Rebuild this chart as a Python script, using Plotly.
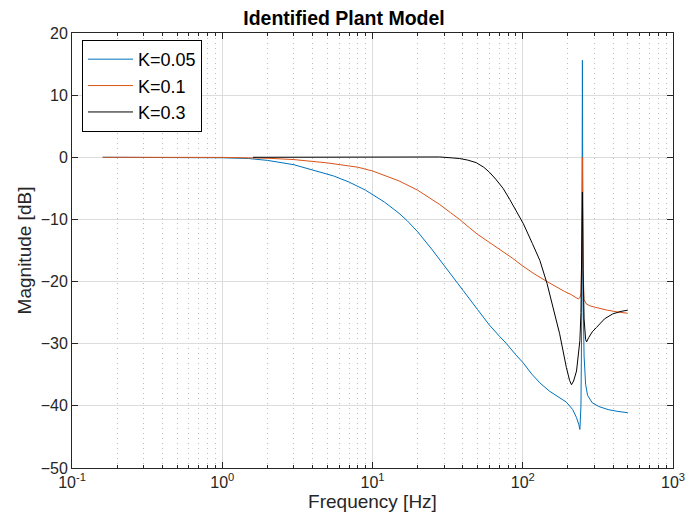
import plotly.graph_objects as go

# Magnitude responses of the identified plant for three gains
f_k005 = [0.16, 0.3, 0.5, 1.0, 1.5, 2.0, 3.0, 4.0, 5.5, 7.0, 9.0, 12, 15, 17, 20, 25, 30,
          36, 40, 50, 60, 70, 78, 90, 100, 115, 130, 150, 175, 195, 215, 228, 236, 240,
          244, 247, 249.5, 252, 256, 262, 270, 290, 320, 370, 430, 500]
db_k005 = [0.0, 0.0, -0.02, -0.08, -0.2, -0.5, -1.2, -2.0, -3.0, -4.0, -5.3, -7.2, -9.0,
           -10.2, -12.0, -14.9, -17.5, -20.0, -21.4, -24.5, -27.0, -28.8, -30.0, -31.8,
           -33.0, -34.9, -36.3, -37.6, -38.7, -39.4, -40.6, -41.9, -43.0, -43.8,
           -40.0, -25.0, 15.6, -22.0, -32.0, -36.5, -38.3, -39.5, -40.1, -40.6, -40.9, -41.1]

f_k01 = [0.16, 0.5, 1.0, 2.0, 3.0, 5.0, 8.0, 10, 12, 15, 20, 24, 28, 33, 38, 44, 50, 60,
         70, 85, 100, 120, 145, 170, 190, 210, 220, 234, 240, 244, 247, 249.5, 252, 256,
         265, 280, 300, 330, 365, 430, 500]
db_k01 = [0.0, 0.0, -0.02, -0.15, -0.37, -0.9, -1.6, -2.2, -2.9, -3.8, -5.3, -6.5,
          -7.6, -8.9, -10.0, -11.3, -12.4, -13.7, -14.8, -16.2, -17.5, -18.8, -20.0,
          -21.0, -21.6, -22.1, -22.4, -22.8, -22.6, -22.0, -16.0, 0.0, -18.0, -22.9,
          -23.6, -23.9, -24.1, -24.4, -24.6, -24.9, -25.1]

f_k03 = [1.6, 3.0, 5.0, 10, 20, 28, 34, 38, 43, 49, 55, 60, 66, 74, 82, 91, 101, 116,
         130, 145, 160, 176, 195, 205, 211, 218, 228, 236, 240, 244, 247, 249.5, 252,
         256, 262, 266, 275, 290, 309, 350, 397, 450, 500]
db_k03 = [0.0, 0.0, 0.0, 0.02, 0.05, 0.05, -0.1, -0.2, -0.45, -0.86, -1.6, -2.4, -3.5,
          -5.0, -6.8, -8.8, -10.7, -13.9, -16.6, -20.3, -24.3, -28.4, -33.8, -35.9,
          -36.6, -36.0, -34.4, -31.5, -29.5, -25.0, -18.0, -5.6, -18.0, -26.0, -29.3,
          -29.7, -29.0, -28.1, -27.4, -26.0, -25.2, -24.8, -24.6]

series_names = ["K=0.05", "K=0.1", "K=0.3"]
series_colors = ["#0072BD", "#D95319", "#000000"]

x_tick_vals = [0.1, 1, 10, 100, 1000]
x_tick_text = ["10<sup>-1</sup>", "10<sup>0</sup>", "10<sup>1</sup>",
               "10<sup>2</sup>", "10<sup>3</sup>"]
x_minor_vals = [m * 10.0 ** e for e in range(-1, 3) for m in range(2, 10)]
y_tick_vals = [-50, -40, -30, -20, -10, 0, 10, 20]

FONT = "Liberation Sans, Arial, sans-serif"
AXIS_COLOR = "#262626"

fig = go.Figure()
for fx, dbx, name, col in zip([f_k005, f_k01, f_k03], [db_k005, db_k01, db_k03],
                              series_names, series_colors):
    fig.add_trace(go.Scatter(x=fx, y=dbx, mode="lines", name=name,
                             line=dict(color=col, width=1)))

fig.update_layout(
    width=688, height=529,
    margin=dict(l=72, r=15, t=33, b=61, autoexpand=False),
    paper_bgcolor="white", plot_bgcolor="white",
    font=dict(family=FONT, color=AXIS_COLOR, size=16),
    title=dict(text="<b>Identified Plant Model</b>", x=0.5, xanchor="center",
               y=1 - 18 / 529, yanchor="middle", font=dict(size=19.5, color="black")),
    legend=dict(x=0.0166, y=0.984, xanchor="left", yanchor="top",
                bgcolor="white", bordercolor="black", borderwidth=1,
                font=dict(size=18, color="black"), tracegroupgap=0,
                itemwidth=45),
    showlegend=True,
)

fig.update_xaxes(
    type="log", range=[-1, 3], automargin=False,
    tickvals=x_tick_vals, ticktext=x_tick_text,
    ticks="inside", ticklen=6, tickcolor=AXIS_COLOR,
    showline=True, linecolor=AXIS_COLOR, linewidth=1, mirror="ticks",
    showgrid=True, gridcolor="#dcdcdc", gridwidth=1,
    minor=dict(tickmode="array", tickvals=x_minor_vals, ticks="inside", ticklen=3,
               tickcolor=AXIS_COLOR, showgrid=True, gridcolor="#bdbdbd",
               griddash="1px,4px", gridwidth=1),
    zeroline=False,
    title=dict(text="Frequency [Hz]", font=dict(size=19), standoff=4),
    tickfont=dict(size=16),
)
fig.update_yaxes(
    range=[-50, 20], tickvals=y_tick_vals, automargin=False,
    ticks="inside", ticklen=6, tickcolor=AXIS_COLOR,
    showline=True, linecolor=AXIS_COLOR, linewidth=1, mirror="ticks",
    showgrid=True, gridcolor="#dcdcdc", gridwidth=1,
    zeroline=False,
    title=dict(text="Magnitude [dB]", font=dict(size=19), standoff=4),
    tickfont=dict(size=16),
)

fig.write_html("out.html")
